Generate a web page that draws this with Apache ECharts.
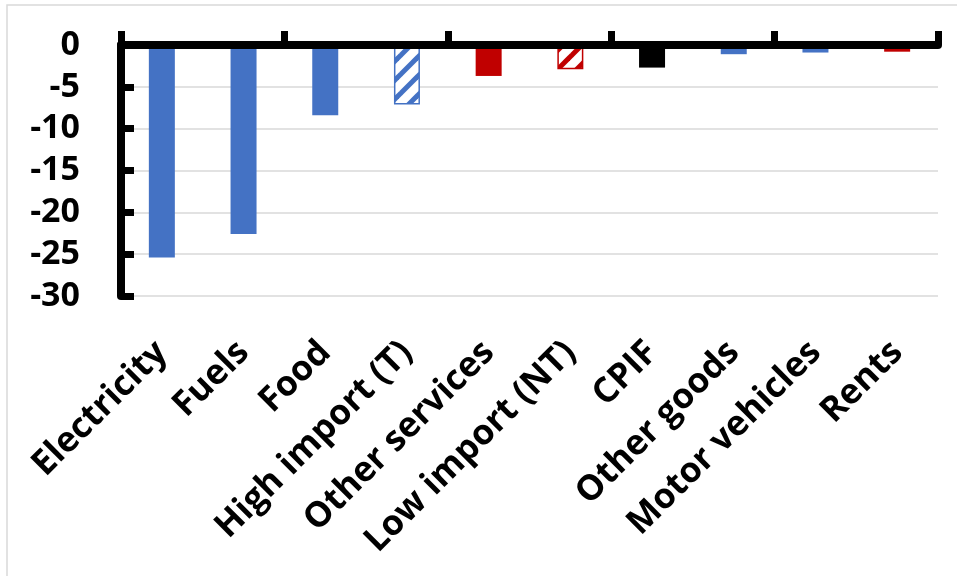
<!DOCTYPE html>
<html>
<head>
<meta charset="utf-8">
<script src="https://cdn.jsdelivr.net/npm/echarts@6/dist/echarts.min.js"></script>
<style>
  html, body { margin: 0; padding: 0; background: #fff; }
  #chart { width: 957px; height: 576px; }
</style>
</head>
<body>
<div id="chart"></div>
<script>
// Contributions by component (percentage points)
const categories = ['Electricity', 'Fuels', 'Food', 'High import (T)', 'Other services',
                    'Low import (NT)', 'CPIF', 'Other goods', 'Motor vehicles', 'Rents'];
const values = [-25.4, -22.6, -8.4, -7.1, -3.7, -2.9, -2.7, -1.1, -0.9, -0.8];
const yTicks = [0, -5, -10, -15, -20, -25, -30];

const BLUE = '#4472C4';
const RED = '#C00000';
const FONT = '"Open Sans", "Liberation Sans", sans-serif';

// Diagonal "/" stripe tile used for the hatched bars
function stripeTile(color) {
  const P = 19;
  const c = document.createElement('canvas');
  c.width = P; c.height = P;
  const g = c.getContext('2d');
  g.fillStyle = '#ffffff';
  g.fillRect(0, 0, P, P);
  g.strokeStyle = color;
  g.lineWidth = 5;
  g.lineCap = 'square';
  for (const x0 of [-P, 0, P]) {
    g.beginPath();
    g.moveTo(x0, P);
    g.lineTo(x0 + P, 0);
    g.stroke();
  }
  return c;
}

const barStyles = {
  'Electricity': { color: BLUE },
  'Fuels': { color: BLUE },
  'Food': { color: BLUE },
  'High import (T)': { color: { image: stripeTile(BLUE), repeat: 'repeat' }, borderColor: BLUE, borderWidth: 1.5 },
  'Other services': { color: RED },
  'Low import (NT)': { color: { image: stripeTile(RED), repeat: 'repeat' }, borderColor: RED, borderWidth: 1.5 },
  'CPIF': { color: '#000000' },
  'Other goods': { color: BLUE },
  'Motor vehicles': { color: BLUE },
  'Rents': { color: RED }
};

const chart = echarts.init(document.getElementById('chart'), null, { renderer: 'canvas' });

chart.setOption({
  animation: false,
  backgroundColor: '#ffffff',
  graphic: [{
    type: 'rect',
    shape: { x: 7, y: 5, width: 1000, height: 1000 },
    style: { fill: 'none', stroke: '#d9d9d9', lineWidth: 1.5 },
    silent: true,
    z: -10
  }],
  grid: { left: 121, right: 19, top: 45, bottom: 280, containLabel: false },
  xAxis: [
    {
      // zero line along the top with boundary ticks pointing up
      type: 'category',
      data: categories,
      position: 'top',
      axisLine: { show: true, lineStyle: { color: '#000', width: 8 } },
      axisTick: { show: true, alignWithLabel: false, length: 14, lineStyle: { color: '#000', width: 7 } },
      axisLabel: { show: false },
      splitLine: { show: false },
      z: 10
    },
    {
      // category names below the plot
      type: 'category',
      data: categories,
      position: 'bottom',
      axisLine: { show: false },
      axisTick: { show: false },
      axisLabel: {
        interval: 0,
        rotate: 45,
        align: 'right',
        verticalAlign: 'middle',
        margin: 51,
        fontFamily: FONT,
        fontWeight: 'bold',
        fontSize: 35,
        color: '#000'
      }
    }
  ],
  yAxis: {
    type: 'value',
    min: -30,
    max: 0,
    interval: 5,
    axisLine: { show: true, lineStyle: { color: '#000', width: 8 } },
    axisTick: { show: true, inside: true, length: 13, lineStyle: { color: '#000', width: 7 } },
    axisLabel: {
      margin: 41,
      fontFamily: FONT,
      fontWeight: 'bold',
      fontSize: 34,
      color: '#000',
      formatter: v => (yTicks.includes(v) ? String(v) : '')
    },
    splitLine: { show: true, lineStyle: { color: '#d9d9d9', width: 1.5 } }
  },
  series: [{
    type: 'bar',
    xAxisIndex: 0,
    barWidth: 26,
    data: categories.map((name, i) => ({ value: values[i], itemStyle: barStyles[name] })),
    z: 2
  }]
});
</script>
</body>
</html>
